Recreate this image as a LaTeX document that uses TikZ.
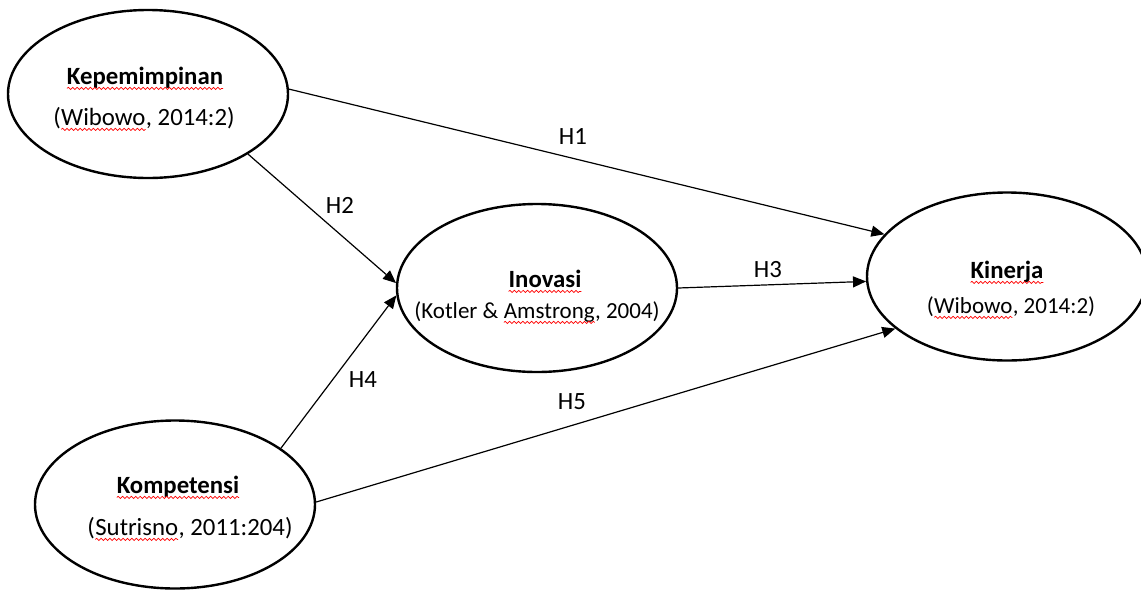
\documentclass[tikz,border=0pt]{standalone}
\usepackage{fontspec}
\setmainfont{Carlito}
\usepackage{tikz}
\usetikzlibrary{shapes.geometric}
\usetikzlibrary{arrows.meta}
\usetikzlibrary{decorations.pathmorphing}

\tikzset{
  var/.style={draw,ellipse,line width=1.2pt,minimum width=140pt,minimum height=84pt,inner sep=0pt},
  txt/.style={anchor=base,inner sep=0pt,font=\fontsize{12.4}{15}\selectfont},
  txtsmall/.style={txt,font=\fontsize{11.5}{14}\selectfont},
  hlab/.style={inner sep=0pt,font=\fontsize{12.4}{15}\selectfont},
  hyp/.style={-{Triangle[length=6.5pt,width=5.5pt]},line width=0.6pt}
}
\newcommand{\wav}[1]{\tikz[baseline=(w.base)]{\node[inner sep=0pt,outer sep=0pt](w){#1};\draw[red,line width=0.35pt,decorate,decoration={snake,amplitude=0.55pt,segment length=2.2pt}] ([yshift=-2.2pt]w.base west) -- ([yshift=-2.2pt]w.base east);}}

\begin{document}
\begin{tikzpicture}[x=0.5pt,y=-0.5pt]
\useasboundingbox (0,0) rectangle (1141,590);

\node[var] (kep) at (148,94) {};
\node[var] (ino) at (537,288) {};
\node[var] (kin) at (1007,276.5) {};
\node[var] (kom) at (175,504.5) {};

\node[txt] (kep1) at (145,84) {\textbf{\wav{Kepemimpinan}}};
\node[txt] (kep2) at (144,125) {(\wav{Wibowo}, 2014:2)};
\node[txt] (ino1) at (545,287) {\textbf{\wav{Inovasi}}};
\node[txtsmall] (ino2) at (537,318) {(Kotler \& \wav{Amstrong}, 2004)};
\node[txt] (kin1) at (1007,278) {\textbf{\wav{Kinerja}}};
\node[txtsmall] (kin2) at (1011,313) {(\wav{Wibowo}, 2014:2)};
\node[txt] (kom1) at (178,493) {\textbf{\wav{Kompetensi}}};
\node[txt] (kom2) at (190,535) {(\wav{Sutrisno}, 2011:204)};

\draw[hyp] (kep.2) -- (kin.161);
\draw[hyp] (kep.-31) -- (ino.178);
\draw[hyp] (ino.0) -- (kin.182);
\draw[hyp] (kom.28) -- (ino.183);
\draw[hyp] (kom.1) -- (kin.205);

\node[hlab] (h1) at (573,137) {H1};
\node[hlab] (h2) at (340,205) {H2};
\node[hlab] (h3) at (768,270) {H3};
\node[hlab] (h4) at (363,380) {H4};
\node[hlab] (h5) at (572,402) {H5};
\end{tikzpicture}
\end{document}
